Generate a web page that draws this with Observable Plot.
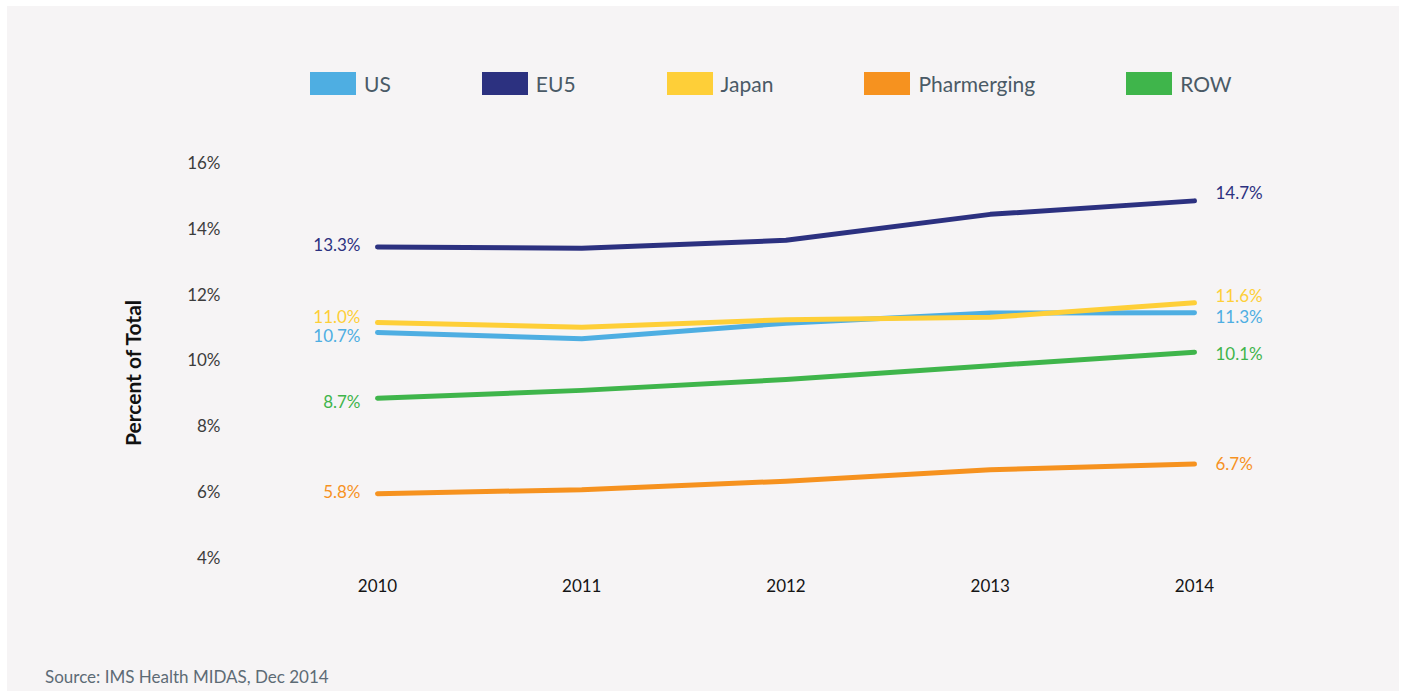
<!DOCTYPE html>
<html>
<head>
<meta charset="utf-8">
<script src="https://cdn.jsdelivr.net/npm/d3@7"></script>
<script src="https://cdn.jsdelivr.net/npm/@observablehq/plot@0.6"></script>
<style>
  html, body { margin: 0; padding: 0; background: #ffffff; }
  #wrap { position: relative; width: 1405px; height: 691px; overflow: hidden; font-family: Lato, "Open Sans", sans-serif; }
  #panel { position: absolute; left: 7px; top: 6px; width: 1392px; height: 685px; background: #f6f4f5; }
  #chart { position: absolute; left: 0; top: 0; }
  #legend { position: absolute; left: 310px; top: 72px; display: flex; gap: 91px; align-items: center; }
  .item { display: flex; align-items: center; gap: 8px; font-size: 21px; color: #4a5a66; height: 23px; }
  .sw { width: 46px; height: 23px; display: inline-block; }
  #source { position: absolute; left: 45px; top: 667px; font-size: 17px; color: #5d6b75; line-height: 20px; }
  #ytitle { position: absolute; left: 132px; top: 373px; transform: translate(-50%, -50%) rotate(-90deg);
            font-size: 21px; font-weight: bold; color: #111; white-space: nowrap; }
</style>
</head>
<body>
<div id="wrap">
  <div id="panel"></div>
  <div id="chart"></div>
  <div id="legend"></div>
  <div id="ytitle">Percent of Total</div>
  <div id="source">Source: IMS Health MIDAS, Dec 2014</div>
</div>
<script>
// ---- data ----
const years = [2010, 2011, 2012, 2013, 2014];
const seriesNames = ["US", "EU5", "Japan", "Pharmerging", "ROW"];
const US = [10.7, 10.51, 10.98, 11.29, 11.3];
const EU5 = [13.3, 13.26, 13.5, 14.29, 14.7];
const Japan = [11.0, 10.86, 11.09, 11.16, 11.6];
const Pharmerging = [5.8, 5.92, 6.18, 6.53, 6.7];
const ROW = [8.7, 8.94, 9.27, 9.69, 10.1];
const yTicks = [4, 6, 8, 10, 12, 14, 16];
const startLabels = ["10.7%", "13.3%", "11.0%", "5.8%", "8.7%"];
const endLabels = ["11.3%", "14.7%", "11.6%", "6.7%", "10.1%"];

// ---- styling ----
const colors = { US: "#4eaee2", EU5: "#2c3180", Japan: "#fecf38", Pharmerging: "#f6921f", ROW: "#3fb54b" };
const startNudge = { US: 4.5, EU5: -1.5, Japan: -5.5, Pharmerging: -1, ROW: 4 };
const endNudge = { US: 5, EU5: -7, Japan: -6.5, Pharmerging: 0.5, ROW: 2.5 };
const drawOrder = ["ROW", "Pharmerging", "US", "Japan", "EU5"];

const valuesBy = { US, EU5, Japan, Pharmerging, ROW };
const rows = drawOrder.flatMap(s => years.map((yr, i) => ({ series: s, year: yr, value: valuesBy[s][i] })));

const font = "Lato, 'Open Sans', sans-serif";
const last = years.length - 1;

const labelMarks = seriesNames.flatMap((s, i) => [
  Plot.text([{ year: years[0], value: valuesBy[s][0], label: startLabels[i] }], {
    x: "year", y: "value", text: "label", textAnchor: "end", dx: -17, dy: startNudge[s],
    fill: colors[s], fontSize: 17
  }),
  Plot.text([{ year: years[last], value: valuesBy[s][last], label: endLabels[i] }], {
    x: "year", y: "value", text: "label", textAnchor: "start", dx: 21, dy: endNudge[s],
    fill: colors[s], fontSize: 17
  })
]);

const plot = Plot.plot({
  width: 1405,
  height: 691,
  marginLeft: 223,
  marginRight: 100,
  marginTop: 140,
  marginBottom: 115,
  style: { background: "transparent", fontFamily: font, overflow: "visible" },
  x: { domain: [2010, 2014], range: [377, 1194] },
  y: { domain: [4, 16], range: [552.4, 157.6] },
  marks: [
    Plot.axisY(yTicks, {
      tickSize: 0, tickPadding: 3, dy: 5.5, fontSize: 17, fill: "#3c3c3c",
      tickFormat: d => d + "%", label: null
    }),
    Plot.axisX(years, {
      tickSize: 0, tickPadding: 3, fontSize: 17, fill: "#151515",
      tickFormat: d => String(d), label: null
    }),
    ...drawOrder.map(s => Plot.line(rows.filter(r => r.series === s), {
      x: "year", y: "value", stroke: colors[s], strokeWidth: 5, strokeLinecap: "round"
    })),
    ...labelMarks
  ]
});
document.getElementById("chart").appendChild(plot);

// legend
const legend = document.getElementById("legend");
seriesNames.forEach(s => {
  const item = document.createElement("div");
  item.className = "item";
  const sw = document.createElement("span");
  sw.className = "sw";
  sw.style.background = colors[s];
  const lab = document.createElement("span");
  lab.textContent = s;
  item.appendChild(sw);
  item.appendChild(lab);
  legend.appendChild(item);
});
</script>
</body>
</html>
